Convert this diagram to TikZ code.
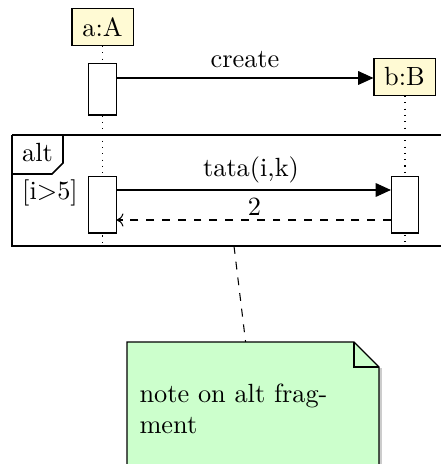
\documentclass[tikz,border=0pt]{standalone}
\usetikzlibrary{arrows.meta}
\definecolor{objyellow}{RGB}{255,250,212}
\definecolor{notegreen}{RGB}{204,255,204}
\tikzset{
  x=0.38pt, y=-0.38pt,
  objbox/.style={draw, fill=objyellow, inner sep=0pt, minimum width=23.2pt, minimum height=14.4pt, font=\normalsize},
  actbox/.style={draw, fill=white, inner sep=0pt, minimum width=10.3pt},
  lifeline/.style={dotted, line width=0.4pt},
  callarrow/.style={-{Triangle[length=5.8pt,width=5.2pt]}, line width=0.4pt},
  retarrow/.style={dashed, -{To[length=2.6pt,width=5pt]}, line width=0.4pt},
  framebox/.style={line width=0.6pt},
  notebox/.style={draw, fill=notegreen, line width=0.5pt},
  lbl/.style={inner sep=0pt}
}
\begin{document}
\begin{tikzpicture}
\useasboundingbox (0,0) rectangle (441,464);
\clip (0,0) rectangle (441,464);
% lifeline anchors
\coordinate (Atop) at (102.5,46);
\coordinate (Abot) at (102.5,246);
\coordinate (Btop) at (405,96);
\coordinate (Bbot) at (405,246);
\draw[lifeline] (Atop) -- (Abot);
\draw[lifeline] (Btop) -- (Bbot);
% objects
\node[objbox] (A) at (102.5,27) {a:A};
\node[objbox] (B) at (404.5,77) {b:B};
% activations
\node[actbox, minimum height=19.4pt] (A1) at (102.5,89.5) {};
\node[actbox, minimum height=21.3pt] (A2) at (102.5,205) {};
\node[actbox, minimum height=21.3pt] (B2) at (405,205) {};
% create
\draw[callarrow] (A1.east |- 0,78) -- (B.west |- 0,78);
\node[lbl] (createlbl) at (245,60) {create};
% frame
\coordinate (F1) at (12,135);
\coordinate (F2) at (441,246);
\draw[framebox] (12,135) -- (441,135);
\draw[framebox] (12,135) -- (12,246) -- (441,246);
\draw[framebox] (63,135) -- (63,163) -- (52,174) -- (12,174);
\node[lbl] (altlbl) at (37.5,153) {alt};
\node[lbl] (guard) at (50,193) {[i$>$5]};
% tata call
\draw[callarrow] (A2.east |- 0,190) -- (B2.west |- 0,190);
\node[lbl] (tatalbl) at (251,170) {tata(i,k)};
% return
\draw[retarrow] (B2.west |- 0,220) -- (A2.east |- 0,220);
\node[lbl] (retlbl) at (254.5,207) {2};
% note
\coordinate (ntop) at (245.6,342);
\coordinate (nfrom) at (234,246);
\draw[dashed, line width=0.4pt] (nfrom) -- (ntop);
\draw[gray!40, line width=0.8pt] (380.5,368) -- (380.5,480);
\draw[notebox] (127,342) -- (354,342) -- (379,367) -- (379,480) -- (127,480) -- cycle;
\draw[line width=0.5pt] (354,342) -- (354,367) -- (379,367);
\node[lbl, anchor=north west, align=left] (note) at (139,383) {note on alt frag-\\ment};
\end{tikzpicture}
\end{document}
